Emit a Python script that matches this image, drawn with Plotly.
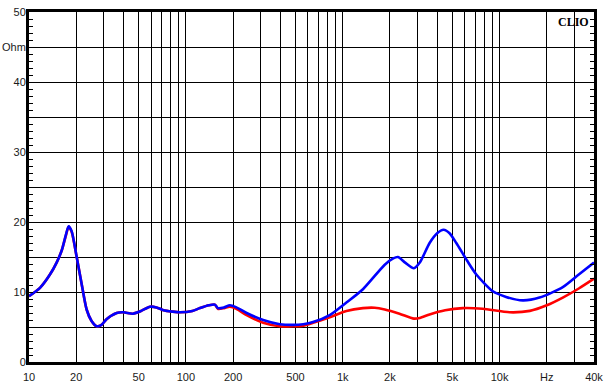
import plotly.graph_objects as go
import numpy as np

# Blue curve (impedance, Ohm) vs frequency (Hz)
blue_freq = [10, 11.75, 13.6, 15.0, 16.2, 17.2, 17.9, 18.7, 20.1, 21.6, 23.3, 25, 27, 29, 31.2, 36.2, 40, 46,
             52, 59, 65, 72, 82, 92, 110, 123, 140, 153, 160, 175, 191, 210, 244, 311, 397, 482, 560,
             647, 826, 1056, 1346, 1854, 2100, 2249, 2500, 2843, 3100, 3580, 4000, 4397, 4800, 5300,
             6200, 7110, 9060, 11000, 14070, 17980, 25300, 32000, 40000]
blue_ohm = [9.4, 10.6, 12.5, 14.2, 16.0, 18.2, 19.4, 18.7, 15.1, 11.3, 7.5, 5.9, 5.1, 5.3, 6.1, 7.0, 7.1, 6.9,
            7.3, 7.9, 7.8, 7.4, 7.2, 7.1, 7.3, 7.7, 8.1, 8.2, 7.7, 7.8, 8.1, 7.8, 7.0, 6.0, 5.4, 5.3, 5.4,
            5.7, 6.7, 8.5, 10.4, 13.9, 14.8, 15.0, 14.2, 13.4, 14.2, 17.0, 18.4, 18.9, 18.4, 17.0,
            14.5, 12.5, 10.1, 9.3, 8.8, 9.2, 10.7, 12.5, 14.2]

# Red curve
red_freq = [10, 11.75, 13.6, 15.0, 16.2, 17.2, 17.9, 18.7, 20.1, 21.6, 23.3, 25, 27, 29, 31.2, 36.2, 40, 46,
            52, 59, 65, 72, 82, 92, 110, 123, 140, 153, 160, 175, 191, 210, 244, 311, 397, 482, 560,
            647, 826, 1056, 1346, 1600, 1854, 2300, 2843, 3100, 3580, 4500, 5835, 7810, 11580, 15600,
            20000, 25300, 32000, 40000]
red_ohm = [9.4, 10.6, 12.5, 14.2, 16.0, 18.1, 19.3, 18.6, 15.1, 11.3, 7.5, 5.9, 5.1, 5.3, 6.1, 7.0, 7.1, 6.9,
           7.3, 7.9, 7.8, 7.4, 7.2, 7.1, 7.3, 7.7, 8.1, 8.2, 7.6, 7.7, 7.9, 7.6, 6.7, 5.6, 5.1, 5.1, 5.2,
           5.6, 6.4, 7.3, 7.7, 7.75, 7.5, 6.9, 6.2, 6.3, 6.8, 7.4, 7.7, 7.6, 7.1, 7.3,
           8.1, 9.2, 10.5, 11.9]

# Axis ticks
x_grid = [m * 10 ** d for d in range(1, 5) for m in range(1, 10) if m * 10 ** d <= 40000]
x_label_map = {10: "10", 20: "20", 50: "50", 100: "100", 200: "200", 500: "500", 1000: "1k",
               2000: "2k", 5000: "5k", 10000: "10k", 20000: "Hz", 40000: "40k"}
x_text = [x_label_map.get(v, "") for v in x_grid]

y_vals = [0, 5, 10, 15, 20, 25, 30, 35, 40, 45, 50]
y_text = ["0", "", "10", "", "20", "", "30", "", "40", "Ohm", "50"]

fig = go.Figure()
fig.add_trace(go.Scatter(x=red_freq, y=red_ohm, mode="lines", line=dict(color="#ff0000", width=2.6, shape="spline", smoothing=0.7),
                         showlegend=False, hoverinfo="skip"))
fig.add_trace(go.Scatter(x=blue_freq, y=blue_ohm, mode="lines", line=dict(color="#0000ff", width=2.6, shape="spline", smoothing=0.7),
                         showlegend=False, hoverinfo="skip"))

font = dict(family="Liberation Sans, Arial, sans-serif", size=11, color="#1a1a1a")

fig.update_layout(
    width=605, height=387,
    margin=dict(l=29, r=11, t=12, b=25),
    paper_bgcolor="white", plot_bgcolor="white",
    font=font,
    xaxis=dict(type="log", range=[1, np.log10(40000)], tickmode="array", tickvals=x_grid, ticktext=x_text,
               showgrid=True, gridcolor="black", gridwidth=1, ticks="", showline=True, linecolor="black",
               linewidth=3, mirror=True, zeroline=False, tickfont=font, tickangle=0, automargin=False,
               ticklabelstandoff=3),
    yaxis=dict(range=[0, 50], tickmode="array", tickvals=y_vals, ticktext=y_text,
               showgrid=True, gridcolor="black", gridwidth=1, ticks="inside", ticklen=4, tickcolor="black",
               showline=True, linecolor="black", linewidth=3, mirror="allticks", zeroline=False, tickfont=font,
               automargin=False, ticklabelstandoff=-2,
               minor=dict(dtick=1, ticks="inside", ticklen=4, tickcolor="black", showgrid=False)),
    annotations=[dict(text="<b>CLIO</b>", xref="paper", yref="paper", x=0.995, y=0.998, xanchor="right",
                      yanchor="top", showarrow=False,
                      font=dict(family="Liberation Serif, Times New Roman, serif", size=12, color="black"))],
)

fig.write_html("out.html",
               config={"displayModeBar": False, "staticPlot": True},
               post_script="document.body.style.margin='0';document.body.style.padding='0';"
                           "document.documentElement.style.overflow='hidden';")
